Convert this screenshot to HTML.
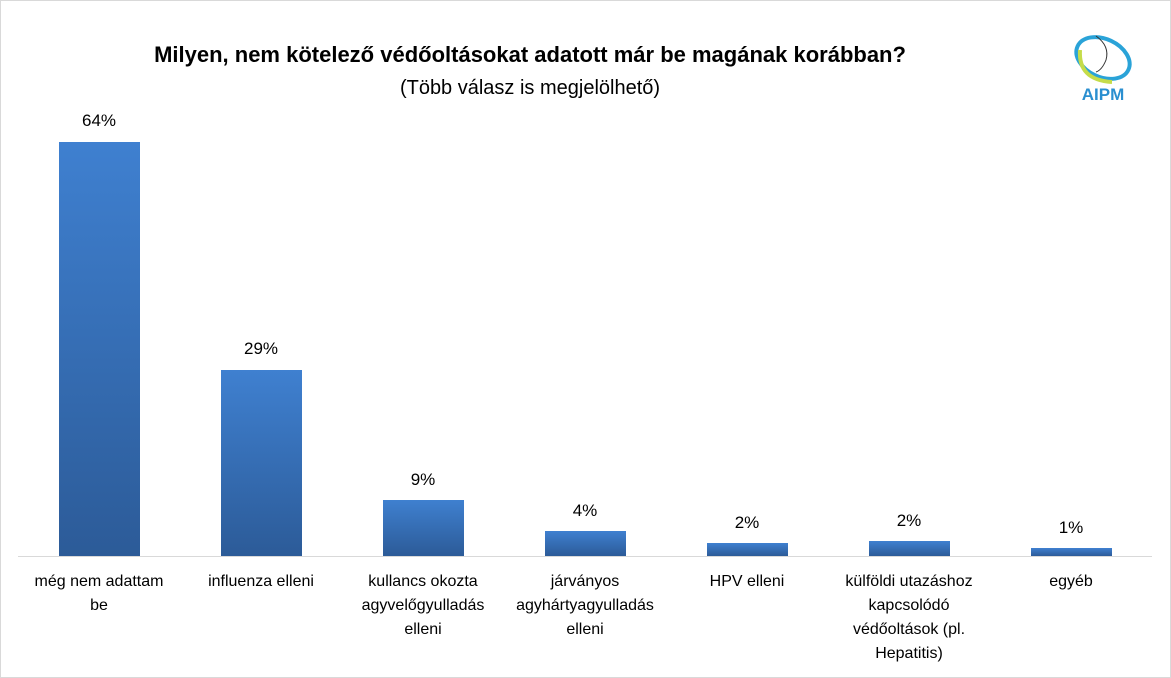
<!DOCTYPE html>
<html><head><meta charset="utf-8"><style>
body{margin:0;width:1171px;height:678px;background:#fff;position:relative;overflow:hidden;font-family:"Liberation Sans",sans-serif;color:#000}
.frame{position:absolute;left:0;top:0;width:1169px;height:676px;border:1px solid #d9d9d9}
.t{position:absolute;white-space:nowrap;transform:translateX(-50%)}
.bar{position:absolute;width:81px;background:linear-gradient(#3f80d0,#2c5b98)}
.v{position:absolute;font-size:17px;transform:translateX(-50%)}
.c{position:absolute;width:160px;text-align:center;font-size:16px;line-height:24px;transform:translateX(-50%)}
</style></head><body>
<div class="frame"></div>
<div class="t" style="left:530px;top:42px;font-size:22px;font-weight:bold">Milyen, nem kötelező védőoltásokat adatott már be magának korábban?</div>
<div class="t" style="left:530px;top:77px;font-size:20px">(Több válasz is megjelölhető)</div>
<svg style="position:absolute;left:1066px;top:22px" width="74" height="82" viewBox="0 0 74 82">
<ellipse cx="37" cy="36" rx="28" ry="19" fill="none" stroke="#2aa3d8" stroke-width="4" transform="rotate(25 37 36)"/>
<path d="M14 28 Q12 58 46 60" fill="none" stroke="#c5dc4a" stroke-width="4"/>
<path d="M30 14 Q44 24 40 38 Q36 48 30 50" fill="none" stroke="#333" stroke-width="1"/>
<text x="37" y="78" font-family="Liberation Sans" font-weight="bold" font-size="17" fill="#2a8fd0" text-anchor="middle">AIPM</text>
</svg>
<div style="position:absolute;left:18px;top:556px;width:1134px;height:1px;background:#d9d9d9"></div>
<div class="bar" style="left:59px;top:142px;height:414px"></div>
<div class="bar" style="left:221px;top:370px;height:186px"></div>
<div class="bar" style="left:383px;top:500px;height:56px"></div>
<div class="bar" style="left:545px;top:531px;height:25px"></div>
<div class="bar" style="left:707px;top:543px;height:13px"></div>
<div class="bar" style="left:869px;top:541px;height:15px"></div>
<div class="bar" style="left:1031px;top:548px;height:8px"></div>
<div class="v" style="left:99px;top:111px">64%</div>
<div class="v" style="left:261px;top:339px">29%</div>
<div class="v" style="left:423px;top:470px">9%</div>
<div class="v" style="left:585px;top:501px">4%</div>
<div class="v" style="left:747px;top:513px">2%</div>
<div class="v" style="left:909px;top:511px">2%</div>
<div class="v" style="left:1071px;top:518px">1%</div>
<div class="c" style="left:99px;top:570px;width:140px">még nem adattam be</div>
<div class="c" style="left:261px;top:570px">influenza elleni</div>
<div class="c" style="left:423px;top:570px">kullancs okozta agyvelőgyulladás elleni</div>
<div class="c" style="left:585px;top:570px">járványos agyhártyagyulladás elleni</div>
<div class="c" style="left:747px;top:570px">HPV elleni</div>
<div class="c" style="left:909px;top:570px;width:150px">külföldi utazáshoz kapcsolódó védőoltások (pl. Hepatitis)</div>
<div class="c" style="left:1071px;top:570px">egyéb</div>
</body></html>
